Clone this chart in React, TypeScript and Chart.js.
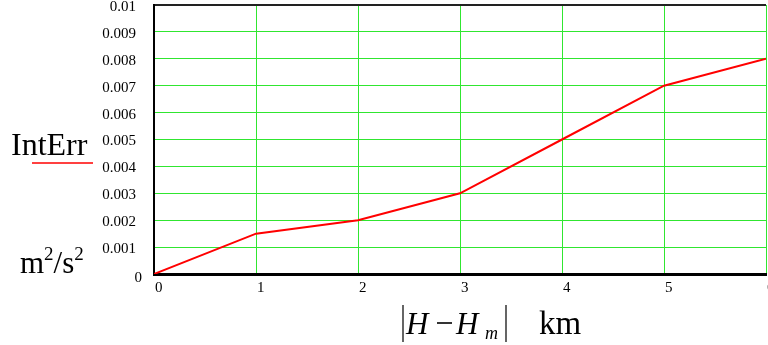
import React, { useEffect, useRef } from "react";
import { Chart, registerables } from "chart.js";

Chart.register(...registerables);

// Height offset |H - Hm| in km, and the integrated error in m^2/s^2
const offsetKm = [0, 1, 2, 3, 4, 5, 6];
const intErr = [0, 0.0015, 0.002, 0.003, 0.005, 0.007, 0.008];
const xTickLabels = ["0", "1", "2", "3", "4", "5", "6"];
const yTickLabels = ["0", "0.001", "0.002", "0.003", "0.004", "0.005", "0.006", "0.007", "0.008", "0.009", "0.01"];

const SERIF = '"Liberation Serif", "Times New Roman", serif';
const GRID = "rgb(48,230,48)";

const labelsPlugin = {
  id: "mathcadLabels",
  afterDraw(chart: any) {
    const ctx = chart.ctx as CanvasRenderingContext2D;
    const xs = chart.scales.x;
    const ys = chart.scales.y;
    ctx.save();
    ctx.fillStyle = "#000";

    // y tick labels
    ctx.font = `15px ${SERIF}`;
    ctx.textBaseline = "middle";
    ctx.textAlign = "right";
    yTickLabels.forEach((t, i) => {
      const v = i * 0.001;
      const py = ys.getPixelForValue(v);
      if (i === 0) ctx.fillText(t, 142, py + 4);
      else ctx.fillText(t, 136, py + 2);
    });

    // x tick labels
    ctx.textAlign = "left";
    ctx.textBaseline = "middle";
    xTickLabels.forEach((t, i) => {
      const px = xs.getPixelForValue(offsetKm[i]);
      ctx.fillText(t, px + 1, 288);
    });

    // y title: series name with its line sample, then units
    ctx.textBaseline = "alphabetic";
    ctx.font = `32px ${SERIF}`;
    ctx.fillText("IntErr", 11, 155);
    ctx.strokeStyle = "#ff0000";
    ctx.lineWidth = 1.5;
    ctx.beginPath();
    ctx.moveTo(32, 163);
    ctx.lineTo(93, 163);
    ctx.stroke();

    let x = 20;
    const base = 273;
    ctx.font = `31px ${SERIF}`;
    ctx.fillText("m", x, base);
    x += ctx.measureText("m").width;
    ctx.font = `19px ${SERIF}`;
    ctx.fillText("2", x, base - 13);
    x += ctx.measureText("2").width;
    ctx.font = `31px ${SERIF}`;
    ctx.fillText("/s", x, base);
    x += ctx.measureText("/s").width;
    ctx.font = `19px ${SERIF}`;
    ctx.fillText("2", x, base - 13);

    // x title: |H - Hm|  km
    const xb = 334;
    ctx.strokeStyle = "#000";
    ctx.lineWidth = 1.2;
    ctx.beginPath();
    ctx.moveTo(403, 305);
    ctx.lineTo(403, 342);
    ctx.moveTo(506, 305);
    ctx.lineTo(506, 342);
    ctx.stroke();
    ctx.font = `italic 31px ${SERIF}`;
    ctx.fillText("H", 406, xb);
    ctx.lineWidth = 1.6;
    ctx.beginPath();
    ctx.moveTo(437, 323);
    ctx.lineTo(452, 323);
    ctx.stroke();
    ctx.fillText("H", 456, xb);
    ctx.font = `italic 18px ${SERIF}`;
    ctx.fillText("m", 485, 339);
    ctx.font = `33px ${SERIF}`;
    ctx.fillText("km", 539, xb);
    ctx.restore();
  },
};

export default function App() {
  const ref = useRef<HTMLCanvasElement>(null);

  useEffect(() => {
    if (!ref.current) return;
    const chart = new Chart(ref.current, {
      type: "line",
      data: {
        labels: offsetKm,
        datasets: [
          {
            label: "IntErr",
            data: offsetKm.map((k, i) => ({ x: k, y: intErr[i] })),
            borderColor: "#ff0000",
            borderWidth: 2,
            pointRadius: 0,
            tension: 0,
            fill: false,
          },
        ],
      },
      options: {
        animation: false,
        responsive: false,
        maintainAspectRatio: false,
        layout: { padding: { left: 0, right: 2, top: 5, bottom: 0 } },
        plugins: { legend: { display: false }, tooltip: { enabled: false } },
        scales: {
          x: {
            type: "linear",
            min: 0,
            max: 6,
            ticks: { display: false, stepSize: 1 },
            grid: {
              color: GRID,
              lineWidth: 1,
              drawTicks: false,
            },
            border: { color: "#000", width: 3 },
            afterFit: (s: any) => {
              s.height = 71;
            },
          },
          y: {
            type: "linear",
            min: 0,
            max: 0.01,
            ticks: { display: false, stepSize: 0.001 },
            grid: {
              color: (c: any) => (c.tick && Math.abs(c.tick.value - 0.01) < 1e-9 ? "#222" : GRID),
              lineWidth: (c: any) => (c.tick && Math.abs(c.tick.value - 0.01) < 1e-9 ? 2 : 1),
              drawTicks: false,
            },
            border: { color: "#000", width: 2 },
            afterFit: (s: any) => {
              s.width = 154;
            },
          },
        },
      },
      plugins: [labelsPlugin],
    });
    return () => chart.destroy();
  }, []);

  return (
    <div style={{ position: "fixed", left: 0, top: 0, width: 768, height: 345, background: "#fff" }}>
      <canvas ref={ref} width={768} height={345} />
    </div>
  );
}
